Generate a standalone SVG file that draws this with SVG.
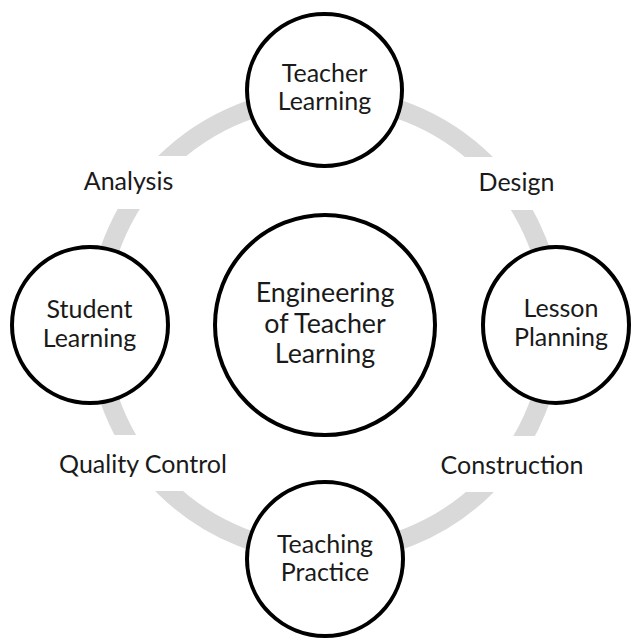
<svg xmlns="http://www.w3.org/2000/svg" width="634" height="640" viewBox="0 0 634 640">
  <style>
    .ring { fill: none; stroke: #d9d9d9; stroke-width: 19; }
    .gap { fill: #ffffff; stroke: none; }
    .node { fill: #ffffff; stroke: #000000; stroke-width: 4; }
    .lbl { font-family: Lato, "Liberation Sans", sans-serif; font-size: 25px; fill: #1a1a1a; text-anchor: middle; }
    .hub { font-size: 26.8px; }
  </style>
  <rect width="634" height="640" fill="#ffffff"/>

  <!-- cycle ring and its phase labels -->
  <g id="connectors">
    <circle class="ring" cx="325" cy="325" r="228"/>
    <rect class="gap" x="55" y="156" width="150" height="53"/>
    <rect class="gap" x="440" y="157" width="160" height="53"/>
    <rect class="gap" x="40" y="435" width="200" height="56"/>
    <rect class="gap" x="420" y="436" width="180" height="56"/>
    <text class="lbl" x="128.5" y="190">Analysis</text>
    <text class="lbl" x="516.5" y="191">Design</text>
    <text class="lbl" x="143" y="473">Quality Control</text>
    <text class="lbl" x="512" y="474">Construction</text>
  </g>

  <g id="hub">
    <circle class="node" cx="325" cy="325" r="110"/>
    <text class="lbl hub" x="325" y="302">Engineering</text>
    <text class="lbl hub" x="325" y="333">of Teacher</text>
    <text class="lbl hub" x="325" y="363">Learning</text>
  </g>

  <g id="teacher-learning">
    <ellipse class="node" cx="324.5" cy="90" rx="77.5" ry="76"/>
    <text class="lbl" x="324.5" y="82">Teacher</text>
    <text class="lbl" x="324.5" y="110">Learning</text>
  </g>

  <g id="lesson-planning">
    <ellipse class="node" cx="556" cy="325" rx="73" ry="78"/>
    <text class="lbl" x="561" y="317">Lesson</text>
    <text class="lbl" x="561" y="346">Planning</text>
  </g>

  <g id="teaching-practice">
    <ellipse class="node" cx="325" cy="559" rx="78" ry="77"/>
    <text class="lbl" x="325" y="553">Teaching</text>
    <text class="lbl" x="325" y="581">Practice</text>
  </g>

  <g id="student-learning">
    <circle class="node" cx="90" cy="325" r="78"/>
    <text class="lbl" x="89.5" y="318">Student</text>
    <text class="lbl" x="89.5" y="347">Learning</text>
  </g>
</svg>
